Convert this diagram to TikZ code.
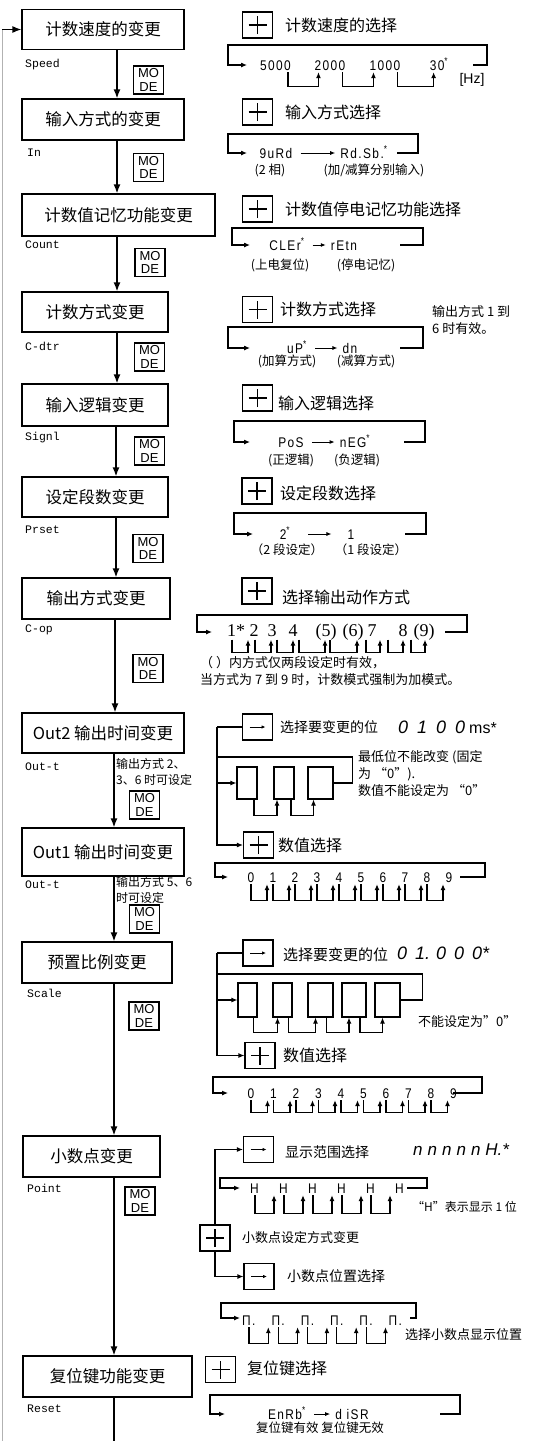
\documentclass[tikz,border=0pt]{standalone}
\usepackage{fontspec}
\setmainfont{Noto Sans CJK SC}
\newfontfamily\segfont[FakeStretch=0.85,LetterSpace=10]{Liberation Sans}
\newfontfamily\tagfont{Liberation Mono}
\newfontfamily\latfont{Liberation Sans}
\newfontfamily\serfont{Liberation Serif}
\usetikzlibrary{arrows.meta,positioning}
\newcommand{\fsz}[1]{\fontsize{#1}{#1}\selectfont}
\newcommand{\dflt}{\textsuperscript{*}}

\begin{document}
\begin{tikzpicture}[x=1pt, y=-1pt,
  box/.style={draw, line width=1.2pt, minimum height=40pt, inner sep=0pt, font=\fsz{16.5}},
  modekey/.style={draw, line width=1.1pt, minimum width=30pt, minimum height=28pt, inner sep=0pt, align=center, font=\latfont\fontsize{13}{13.5}\selectfont},
  key/.style={draw, line width=1.1pt, minimum width=30pt, minimum height=26pt, inner sep=0pt},
  pluskey/.style={key, path picture={\draw[line width=1.2pt] (path picture bounding box.center) ++(-9pt,0) -- ++(18pt,0) (path picture bounding box.center) ++(0,-9pt) -- ++(0,18pt);}},
  arrkey/.style={key, path picture={\draw[line width=0.8pt, -{Latex[length=4pt,width=3.5pt]}] (path picture bounding box.center) ++(-8pt,0) -- ++(16pt,0);}},
  dbox/.style={draw, line width=1.1pt, minimum height=32pt, inner sep=0pt},
  tag/.style={anchor=west, font=\tagfont\fsz{11.5}, inner sep=0pt},
  ktxt/.style={anchor=west, font=\fsz{16}, inner sep=0pt},
  note/.style={anchor=west, align=left, font=\fontsize{13}{17}\selectfont, inner sep=0pt},
  lbl/.style={font=\fsz{12.5}, inner sep=0pt},
  seg/.style={font=\segfont\fsz{14}, inner xsep=0pt, inner ysep=2pt, text height=10pt, text depth=0pt},
  cval/.style={font=\serfont\fsz{18}, inner sep=0pt, text height=12pt, text depth=3pt},
  arr/.style={-{Latex[length=9pt,width=7pt]}, line width=1.5pt},
  sarr/.style={-{Latex[length=6pt,width=5pt]}, line width=1.1pt},
  tarr/.style={-{Latex[length=5pt,width=4pt]}, line width=0.9pt, shorten <=8pt, shorten >=5pt},
  wire/.style={line width=1.1pt}]
\useasboundingbox (0,0) rectangle (535,1441);

% main column
\node[box, minimum width=162pt] (b1) at (103,29.5) {计数速度的变更};
\node[box, minimum width=162pt, minimum height=41pt] (b2) at (103,119.5) {输入方式的变更};
\node[box, minimum width=193pt, minimum height=42pt] (b3) at (118.5,215) {计数值记忆功能变更};
\node[box, minimum width=146pt] (b4) at (95,312) {计数方式变更};
\node[box, minimum width=146pt, minimum height=42pt] (b5) at (95,405) {输入逻辑变更};
\node[box, minimum width=146pt] (b6) at (95,497) {设定段数变更};
\node[box, minimum width=148pt, minimum height=41pt] (b7) at (96,598.5) {输出方式变更};
\node[box, minimum width=162pt] (b8) at (103,733) {Out2 输出时间变更};
\node[box, minimum width=162pt, minimum height=48pt] (b9) at (103,852) {Out1 输出时间变更};
\node[box, minimum width=150pt, minimum height=41pt] (b10) at (97,962.5) {预置比例变更};
\node[box, minimum width=137pt, minimum height=41pt] (b11) at (91.5,1156.5) {小数点变更};
\node[box, minimum width=169pt, minimum height=41pt] (b12) at (107.5,1376.5) {复位键功能变更};

\node[tag] (t1) at (25,65) {Speed};
\node[tag] (t2) at (27,153) {In};
\node[tag] (t3) at (25,245) {Count};
\node[tag] (t4) at (25,346) {C-dtr};
\node[tag] (t5) at (25,438) {Signl};
\node[tag] (t6) at (25,530) {Prset};
\node[tag] (t7) at (25,630) {C-op};
\node[tag] (t8) at (25,767) {Out-t};
\node[tag] (t9) at (25,885) {Out-t};
\node[tag] (t10) at (27,993) {Scale};
\node[tag] (t11) at (27,1188) {Point};
\node[tag] (t12) at (27,1409) {Reset};

\node[modekey] (m1) at (148.5,80) {MO\\DE};
\node[modekey] (m2) at (148.5,167.5) {MO\\DE};
\node[modekey] (m3) at (150,262.5) {MO\\DE};
\node[modekey] (m4) at (149.5,357) {MO\\DE};
\node[modekey] (m5) at (149.5,451) {MO\\DE};
\node[modekey] (m6) at (148,548.5) {MO\\DE};
\node[modekey] (m7) at (148,668.5) {MO\\DE};
\node[modekey] (m8) at (144.5,805) {MO\\DE};
\node[modekey] (m9) at (144.5,919) {MO\\DE};
\node[modekey] (m10) at (144,1016) {MO\\DE};
\node[modekey] (m11) at (140,1201) {MO\\DE};

\node[note, font=\fontsize{12}{16}\selectfont] (o2) at (116,771.5) {输出方式 2、\\3、6 时可设定};
\node[note, font=\fontsize{12}{16}\selectfont] (o1) at (116,889.5) {输出方式 5、6\\时可设定};

\draw[arr] ([xshift=14pt]b1.south) -- ([xshift=14pt]b2.north);
\draw[arr] ([xshift=14pt]b2.south) -- ([xshift=-1.5pt]b3.north);
\draw[arr] ([xshift=-1.5pt]b3.south) -- ([xshift=22pt]b4.north);
\draw[arr] ([xshift=22pt]b4.south) -- ([xshift=22pt]b5.north);
\draw[arr] ([xshift=21pt]b5.south) -- ([xshift=21pt]b6.north);
\draw[arr] ([xshift=21pt]b6.south) -- ([xshift=20pt]b7.north);
\draw[arr] ([xshift=19pt]b7.south) -- ([xshift=12pt]b8.north);
\draw[arr] ([xshift=11pt]b8.south) -- ([xshift=11pt]b9.north);
\draw[arr] ([xshift=11pt]b9.south) -- ([xshift=17pt]b10.north);
\draw[arr] ([xshift=17pt]b10.south) -- ([xshift=22.5pt]b11.north);
\draw[arr] ([xshift=22.5pt]b11.south) -- ([xshift=6.5pt]b12.north);
% return line
\coordinate (retB) at (114,1441);
\coordinate (retL) at (2,1441);
\coordinate (retT) at (2,29.5);
\draw[line width=1.5pt] ([xshift=6.5pt]b12.south) -- (retB);
\draw[gray!60, line width=0.8pt] (retL) -- (retT);
\draw[arr, line width=1.3pt] (retT) -- (b1.west);

% speed
\node[pluskey] (p1) at (257.5,25) {};
\node[ktxt] (k1) at (285,25) {计数速度的选择};
\node[seg] (v11) at (275.5,65) {5000};
\node[seg] (v12) at (330,65) {2000};
\node[seg] (v13) at (385,65) {1000};
\node[seg] (v14) at (439,65) {30\dflt};
\node[font=\latfont\fsz{14}, inner sep=0pt] (hz) at (472,80) {[Hz]};
\draw[sarr] (473,65) -| (487,45) -| (228,65) -- ++(19,0);
\foreach \i/\j in {1/2,2/3,3/4}
  \draw[sarr] ([xshift=-3pt]v1\i.south east) -- ++(0,14) -| ([xshift=4pt]v1\j.south west);

% input mode
\node[pluskey] (p2) at (257.5,112) {};
\node[ktxt] (k2) at (285,112) {输入方式选择};
\node[seg] (v21) at (276,153) {9uRd};
\node[seg] (v22) at (364,153) {Rd.Sb.\dflt};
\draw[tarr] (v21) -- (v22);
\draw[sarr] (397,153) -| (418,134) -| (228,153) -- ++(19,0);
\node[lbl] (n21) at (270,170) {(2 相)};
\node[lbl] (n22) at (374,170) {(加/减算分别输入)};

% count memory
\node[pluskey] (p3) at (257.5,209) {};
\node[ktxt] (k3) at (285,209) {计数值停电记忆功能选择};
\node[seg] (v31) at (287,245) {CLEr\dflt};
\node[seg] (v32) at (344,245) {rEtn};
\draw[tarr] (v31) -- (v32);
\draw[sarr] (400,245) -| (423,228) -| (232,245) -- ++(18,0);
\node[lbl] (n31) at (280,265) {(上电复位)};
\node[lbl] (n32) at (366,265) {(停电记忆)};

% count direction
\node[pluskey] (p4) at (257.5,309.5) {};
\node[ktxt] (k4) at (280,309) {计数方式选择};
\node[note] (n4) at (432,320.5) {输出方式 1 到\\6 时有效。};
\node[seg] (v41) at (297,348) {uP\dflt};
\node[seg] (v42) at (350,348) {dn};
\draw[tarr] (v41) -- (v42);
\draw[sarr] (400,348) -| (423,327) -| (228,348) -- ++(22,0);
\node[lbl] (n41) at (287,361) {(加算方式)};
\node[lbl] (n42) at (366,361) {(减算方式)};

% input logic
\node[pluskey] (p5) at (257.5,398) {};
\node[ktxt] (k5) at (278,403) {输入逻辑选择};
\node[seg] (v51) at (291,442) {PoS};
\node[seg] (v52) at (355,442) {nEG\dflt};
\draw[tarr] (v51) -- (v52);
\draw[sarr] (404,442) -| (425,421) -| (234,442) -- ++(16,0);
\node[lbl] (n51) at (291,460) {(正逻辑)};
\node[lbl] (n52) at (357,460) {(负逻辑)};

% preset stages
\node[pluskey] (p6) at (257,491) {};
\node[ktxt] (k6) at (280,493) {设定段数选择};
\node[seg] (v61) at (285,534) {2\dflt};
\node[seg] (v62) at (351,534) {1};
\draw[tarr, shorten <=18pt, shorten >=16pt] (v61) -- (v62);
\draw[sarr] (405,534) -| (426,513) -| (234,534) -- ++(19,0);
\node[lbl] (n61) at (287,550) {（2 段设定）};
\node[lbl] (n62) at (371,550) {（1 段设定）};

% output mode
\node[pluskey] (p7) at (257,591) {};
\node[ktxt] (k7) at (282,597) {选择输出动作方式};
\foreach \n/\x/\t in {1/236/1*, 2/254/2, 3/272/3, 4/293/4, 5/326/{(5)}, 6/353/{(6)}, 7/372/7, 8/403/8, 9/424/{(9)}}
  \node[cval] (c\n) at (\x,632) {\t};
\draw[sarr] (445,632) -| (467,615) -| (197,632) -- ++(15,0);
\foreach \i/\j/\a/\b in {1/2/-4/-6, 2/3/1/-1, 3/4/5/0, 4/5/6/-1, 5/6/4/4, 6/7/13/8, 7/8/16/0, 8/9/8/1}
  \draw[sarr] ([xshift=\a pt]c\i.south) -- ++(0,13) -| ([xshift=\b pt]c\j.south);
\node[note] (n7) at (200,671.5) {（ ）内方式仅两段设定时有效，\\当方式为 7 到 9 时，计数模式强制为加模式。};

% out2 time
\node[arrkey] (a1) at (257.5,727) {};
\node[ktxt, font=\fsz{14}] (k8) at (280,727) {选择要变更的位};
\node[anchor=west, inner sep=0pt, font=\latfont\fsz{18}] (k8v) at (398,727) {\textit{0\hspace{9pt}1\hspace{9pt}0\hspace{9pt}0}\hspace{4pt}{\fsz{16}ms*}};
\coordinate (s1) at (217,727);
\draw[wire] (s1) -- (a1.west);
\node[dbox, minimum width=20pt] (e1) at (247,783) {};
\node[dbox, minimum width=20pt] (e2) at (284,783) {};
\node[dbox, minimum width=25pt] (e3) at (320.5,783) {};
\draw[wire] (e3.east) -- ++(19,0) -- ++(0,-26) -- (217,757);
\foreach \i/\j in {1/2,2/3}
  \draw[sarr] ([xshift=7pt]e\i.south) -- ++(0,16) -| ([xshift=-7pt]e\j.south);
\node[note] (n8) at (358,773.5) {最低位不能改变 (固定\\为 “0”).\\数值不能设定为 “0”};
\node[pluskey] (p8) at (258.5,845) {};
\node[ktxt] (k9) at (278,845) {数值选择};
\draw[sarr] (s1) |- (e1.west);
\draw[sarr] (s1) |- (p8.west);
\foreach \i in {0,...,9}
  \node[seg] (d\i) at (251+22*\i,877) {\i};
\draw[sarr] (460,877) -| (485,863) -| (215,877) -- ++(13,0);
\foreach \i [count=\j] in {0,...,8}
  \draw[sarr] (d\i.south) -- ++(0,16) -| ([xshift=-6pt]d\j.south);

% scale
\node[arrkey] (a2) at (258,953) {};
\node[ktxt, font=\fsz{15}] (k10) at (283,955) {选择要变更的位};
\node[anchor=west, inner sep=0pt, font=\latfont\fsz{18}] (k10v) at (397,953) {\textit{0\hspace{8pt}1.\hspace{6pt}0\hspace{8pt}0\hspace{8pt}0*}};
\coordinate (s2) at (217,953);
\draw[wire] (s2) -- (a2.west);
\foreach \n/\x/\w in {1/247.5/19, 2/282.5/19, 3/320.5/25, 4/354/24, 5/387.5/25}
  \node[dbox, minimum width=\w pt, minimum height=34pt] (f\n) at (\x,1000) {};
\draw[wire] (f5.east) -- ++(22,0) -- ++(0,-26) -- (217,974);
\foreach \i/\j in {1/2,2/3,3/4,4/5}
  \draw[sarr] ([xshift=6pt]f\i.south) -- ++(0,15) -| ([xshift=-5pt]f\j.south);
\node[note] (n10) at (418,1022) {不能设定为"0"};
\node[pluskey] (p9) at (260,1055.5) {};
\node[ktxt] (k11) at (283,1055) {数值选择};
\draw[sarr] (s2) |- (f1.west);
\draw[sarr] (s2) |- (p9.west);
\foreach \i in {0,...,9}
  \node[seg] (g\i) at (251+22.5*\i,1093) {\i};
\draw[sarr] (453,1093) -| (482,1077) -| (213,1093) -- ++(15,0);
\foreach \i [count=\j] in {0,...,8}
  \draw[sarr] (g\i.south) -- ++(0,12) -| ([xshift=-6pt]g\j.south);

% decimal point
\node[arrkey] (a3) at (258.5,1149.5) {};
\node[ktxt, font=\fsz{14}] (k12) at (285,1152) {显示范围选择};
\node[anchor=west, inner sep=0pt, font=\latfont\itshape\fsz{17}] (k12v) at (413,1150) {n\hspace{5pt}n\hspace{5pt}n\hspace{5pt}n\hspace{5pt}n\hspace{5pt}H.*};
\foreach \i in {0,...,5}
  \node[seg, anchor=west] (h\i) at (250+29*\i,1188) {H};
\draw[sarr] (407,1188) -| (427,1178) -| (220,1188) -- ++(20,0);
\foreach \i [count=\j] in {0,...,4}
  \draw[sarr] ([xshift=5pt]h\i.south west) -- ++(0,18) -| ([xshift=-5pt]h\j.south west);
\node[note, font=\fsz{12}] (n11) at (412,1207) {“H”表示显示 1 位};
\node[pluskey] (p10) at (215,1238) {};
\node[note] (k13) at (242,1238) {小数点设定方式变更};
\node[arrkey] (a4) at (259,1276.5) {};
\node[ktxt, font=\fsz{14}] (k14) at (287,1276) {小数点位置选择};
\draw[sarr] (p10.north) |- (a3.west);
\draw[sarr] (p10.south) |- (a4.west);
\foreach \i in {0,...,5}
  \node[seg, anchor=west] (q\i) at (242+29.3*\i,1320) {Π.};
\draw[sarr] (410,1318) -| (416,1303) -| (221,1318) -- ++(19,0);
\foreach \i [count=\j] in {0,...,4}
  \draw[sarr] ([xshift=7pt]q\i.south west) -- ++(0,16) -| ([xshift=-3pt]q\j.south west);
\node[note] (n12) at (405,1335) {选择小数点显示位置};

% reset key
\node[pluskey] (p11) at (220.5,1369.5) {};
\node[ktxt] (k15) at (247,1368) {复位键选择};
\node[seg] (v121) at (287,1414) {EnRb\dflt};
\node[seg] (v122) at (352,1414) {d iSR};
\draw[tarr] (v121) -- (v122);
\draw[sarr] (440,1414) -| (460,1395) -| (210,1414) -- ++(15,0);
\node[lbl] (n121) at (320,1428) {复位键有效 复位键无效};
\end{tikzpicture}
\end{document}
